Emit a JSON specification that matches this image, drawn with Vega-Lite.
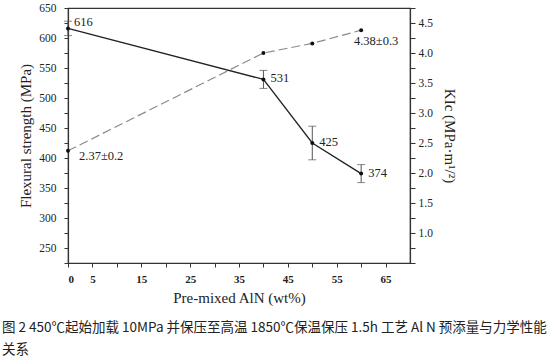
{
  "$schema": "https://vega.github.io/schema/vega-lite/v6.json",
  "width": 342,
  "height": 255,
  "autosize": {"type": "none"},
  "padding": {"left": 68, "top": 8, "right": 147, "bottom": 98},
  "background": "white",
  "config": {
    "view": {"stroke": "#333", "strokeWidth": 1.2},
    "font": "Liberation Serif",
    "axis": {"grid": false, "domainColor": "#333", "tickColor": "#333", "labelColor": "#222", "titleColor": "#222", "labelFont": "Liberation Serif", "titleFont": "Liberation Serif", "titleFontWeight": "normal", "labelFontSize": 11.5, "titleFontSize": 15, "domainWidth": 1.2}
  },
  "title": {
    "text": ["图 2 450℃起始加载 10MPa 并保压至高温 1850℃保温保压 1.5h 工艺 Al N 预添量与力学性能", "关系"],
    "orient": "bottom",
    "anchor": "start",
    "frame": "group",
    "font": "Noto Sans CJK SC",
    "fontSize": 13.5,
    "fontWeight": "normal",
    "color": "#222",
    "lineHeight": 22,
    "dx": -66,
    "offset": 16
  },
  "data": {
    "values": [
      {"x": 0, "strength": 616, "slo": 604, "shi": 628, "kic": 2.37, "slabel": "616", "klabel": "2.37±0.2"},
      {"x": 40, "strength": 531, "slo": 516, "shi": 546, "kic": 4.0, "slabel": "531", "klabel": ""},
      {"x": 50, "strength": 425, "slo": 397, "shi": 453, "kic": 4.16, "slabel": "425", "klabel": ""},
      {"x": 60, "strength": 374, "slo": 359, "shi": 389, "kic": 4.38, "slabel": "374", "klabel": "4.38±0.3"}
    ]
  },
  "encoding": {
    "x": {
      "field": "x", "type": "quantitative",
      "scale": {"domain": [0, 70], "nice": false, "zero": false},
      "axis": {
        "title": "Pre-mixed AlN (wt%)",
        "values": [0, 5, 10, 15, 20, 25, 30, 35, 40, 45, 50, 55, 60, 65],
        "labelExpr": "(datum.value % 10 == 5 || datum.value == 0) ? datum.label : ''",
        "tickSize": 4,
        "labelPadding": 6,
        "titlePadding": 6,
        "labelFont": "Liberation Serif",
        "titleFont": "Liberation Serif",
        "labelFontWeight": "bold",
        "labelFontSize": 11
      }
    }
  },
  "layer": [
    {
      "encoding": {
        "y": {
          "field": "strength", "type": "quantitative",
          "scale": {"domain": [225, 650], "nice": false, "zero": false},
          "axis": {
            "title": "Flexural strength (MPa)",
            "orient": "left",
            "values": [225, 250, 275, 300, 325, 350, 375, 400, 425, 450, 475, 500, 525, 550, 575, 600, 625, 650],
            "labelExpr": "datum.value % 50 == 0 ? datum.label : ''",
            "labelFont": "Liberation Serif",
            "titleFont": "Liberation Serif",
            "tickSize": 4,
            "labelPadding": 8,
            "titlePadding": 5
          }
        }
      },
      "layer": [
        {"mark": {"type": "line", "color": "#222", "strokeWidth": 1.3}},
        {"mark": {"type": "rule", "color": "#555", "strokeWidth": 1}, "encoding": {"y": {"field": "slo", "type": "quantitative"}, "y2": {"field": "shi"}}},
        {"mark": {"type": "tick", "orient": "horizontal", "color": "#555", "size": 8, "thickness": 1}, "encoding": {"y": {"field": "slo", "type": "quantitative"}}},
        {"mark": {"type": "tick", "orient": "horizontal", "color": "#555", "size": 8, "thickness": 1}, "encoding": {"y": {"field": "shi", "type": "quantitative"}}},
        {"mark": {"type": "point", "filled": true, "color": "#111", "size": 16, "opacity": 1}},
        {"mark": {"type": "text", "align": "left", "baseline": "middle", "dx": 6, "dy": -6, "fontSize": 12.5, "color": "#222", "font": "Liberation Serif"}, "encoding": {"text": {"field": "slabel"}}, "transform": [{"filter": "datum.x == 0"}]},
        {"mark": {"type": "text", "align": "left", "baseline": "middle", "dx": 7, "dy": -1, "fontSize": 12.5, "color": "#222", "font": "Liberation Serif"}, "encoding": {"text": {"field": "slabel"}}, "transform": [{"filter": "datum.x > 0"}]}
      ]
    },
    {
      "encoding": {
        "y": {
          "field": "kic", "type": "quantitative",
          "scale": {"domain": [0.5, 4.75], "nice": false, "zero": false},
          "axis": {
            "title": "KIc (MPa·m¹/²)",
            "orient": "right",
            "values": [0.5, 0.75, 1, 1.25, 1.5, 1.75, 2, 2.25, 2.5, 2.75, 3, 3.25, 3.5, 3.75, 4, 4.25, 4.5, 4.75],
            "format": ".1f",
            "labelExpr": "(datum.value >= 1 && datum.value * 2 == floor(datum.value * 2)) ? datum.label : ''",
            "labelFont": "Liberation Serif",
            "titleFont": "Liberation Serif",
            "tickSize": 5,
            "labelPadding": 3,
            "titlePadding": 9
          }
        }
      },
      "layer": [
        {"mark": {"type": "line", "color": "#8a8a8a", "strokeWidth": 1.2, "strokeDash": [9, 4]}},
        {"mark": {"type": "point", "filled": true, "color": "#111", "size": 16, "opacity": 1}},
        {"mark": {"type": "text", "align": "left", "baseline": "middle", "dx": 11, "dy": 5, "fontSize": 12.5, "color": "#222", "font": "Liberation Serif"}, "encoding": {"text": {"field": "klabel"}}, "transform": [{"filter": "datum.x == 0"}]},
        {"mark": {"type": "text", "align": "center", "baseline": "middle", "dx": 15, "dy": 11, "fontSize": 12.5, "color": "#222", "font": "Liberation Serif"}, "encoding": {"text": {"field": "klabel"}}, "transform": [{"filter": "datum.x == 60"}]}
      ]
    }
  ],
  "resolve": {"scale": {"y": "independent"}}
}
